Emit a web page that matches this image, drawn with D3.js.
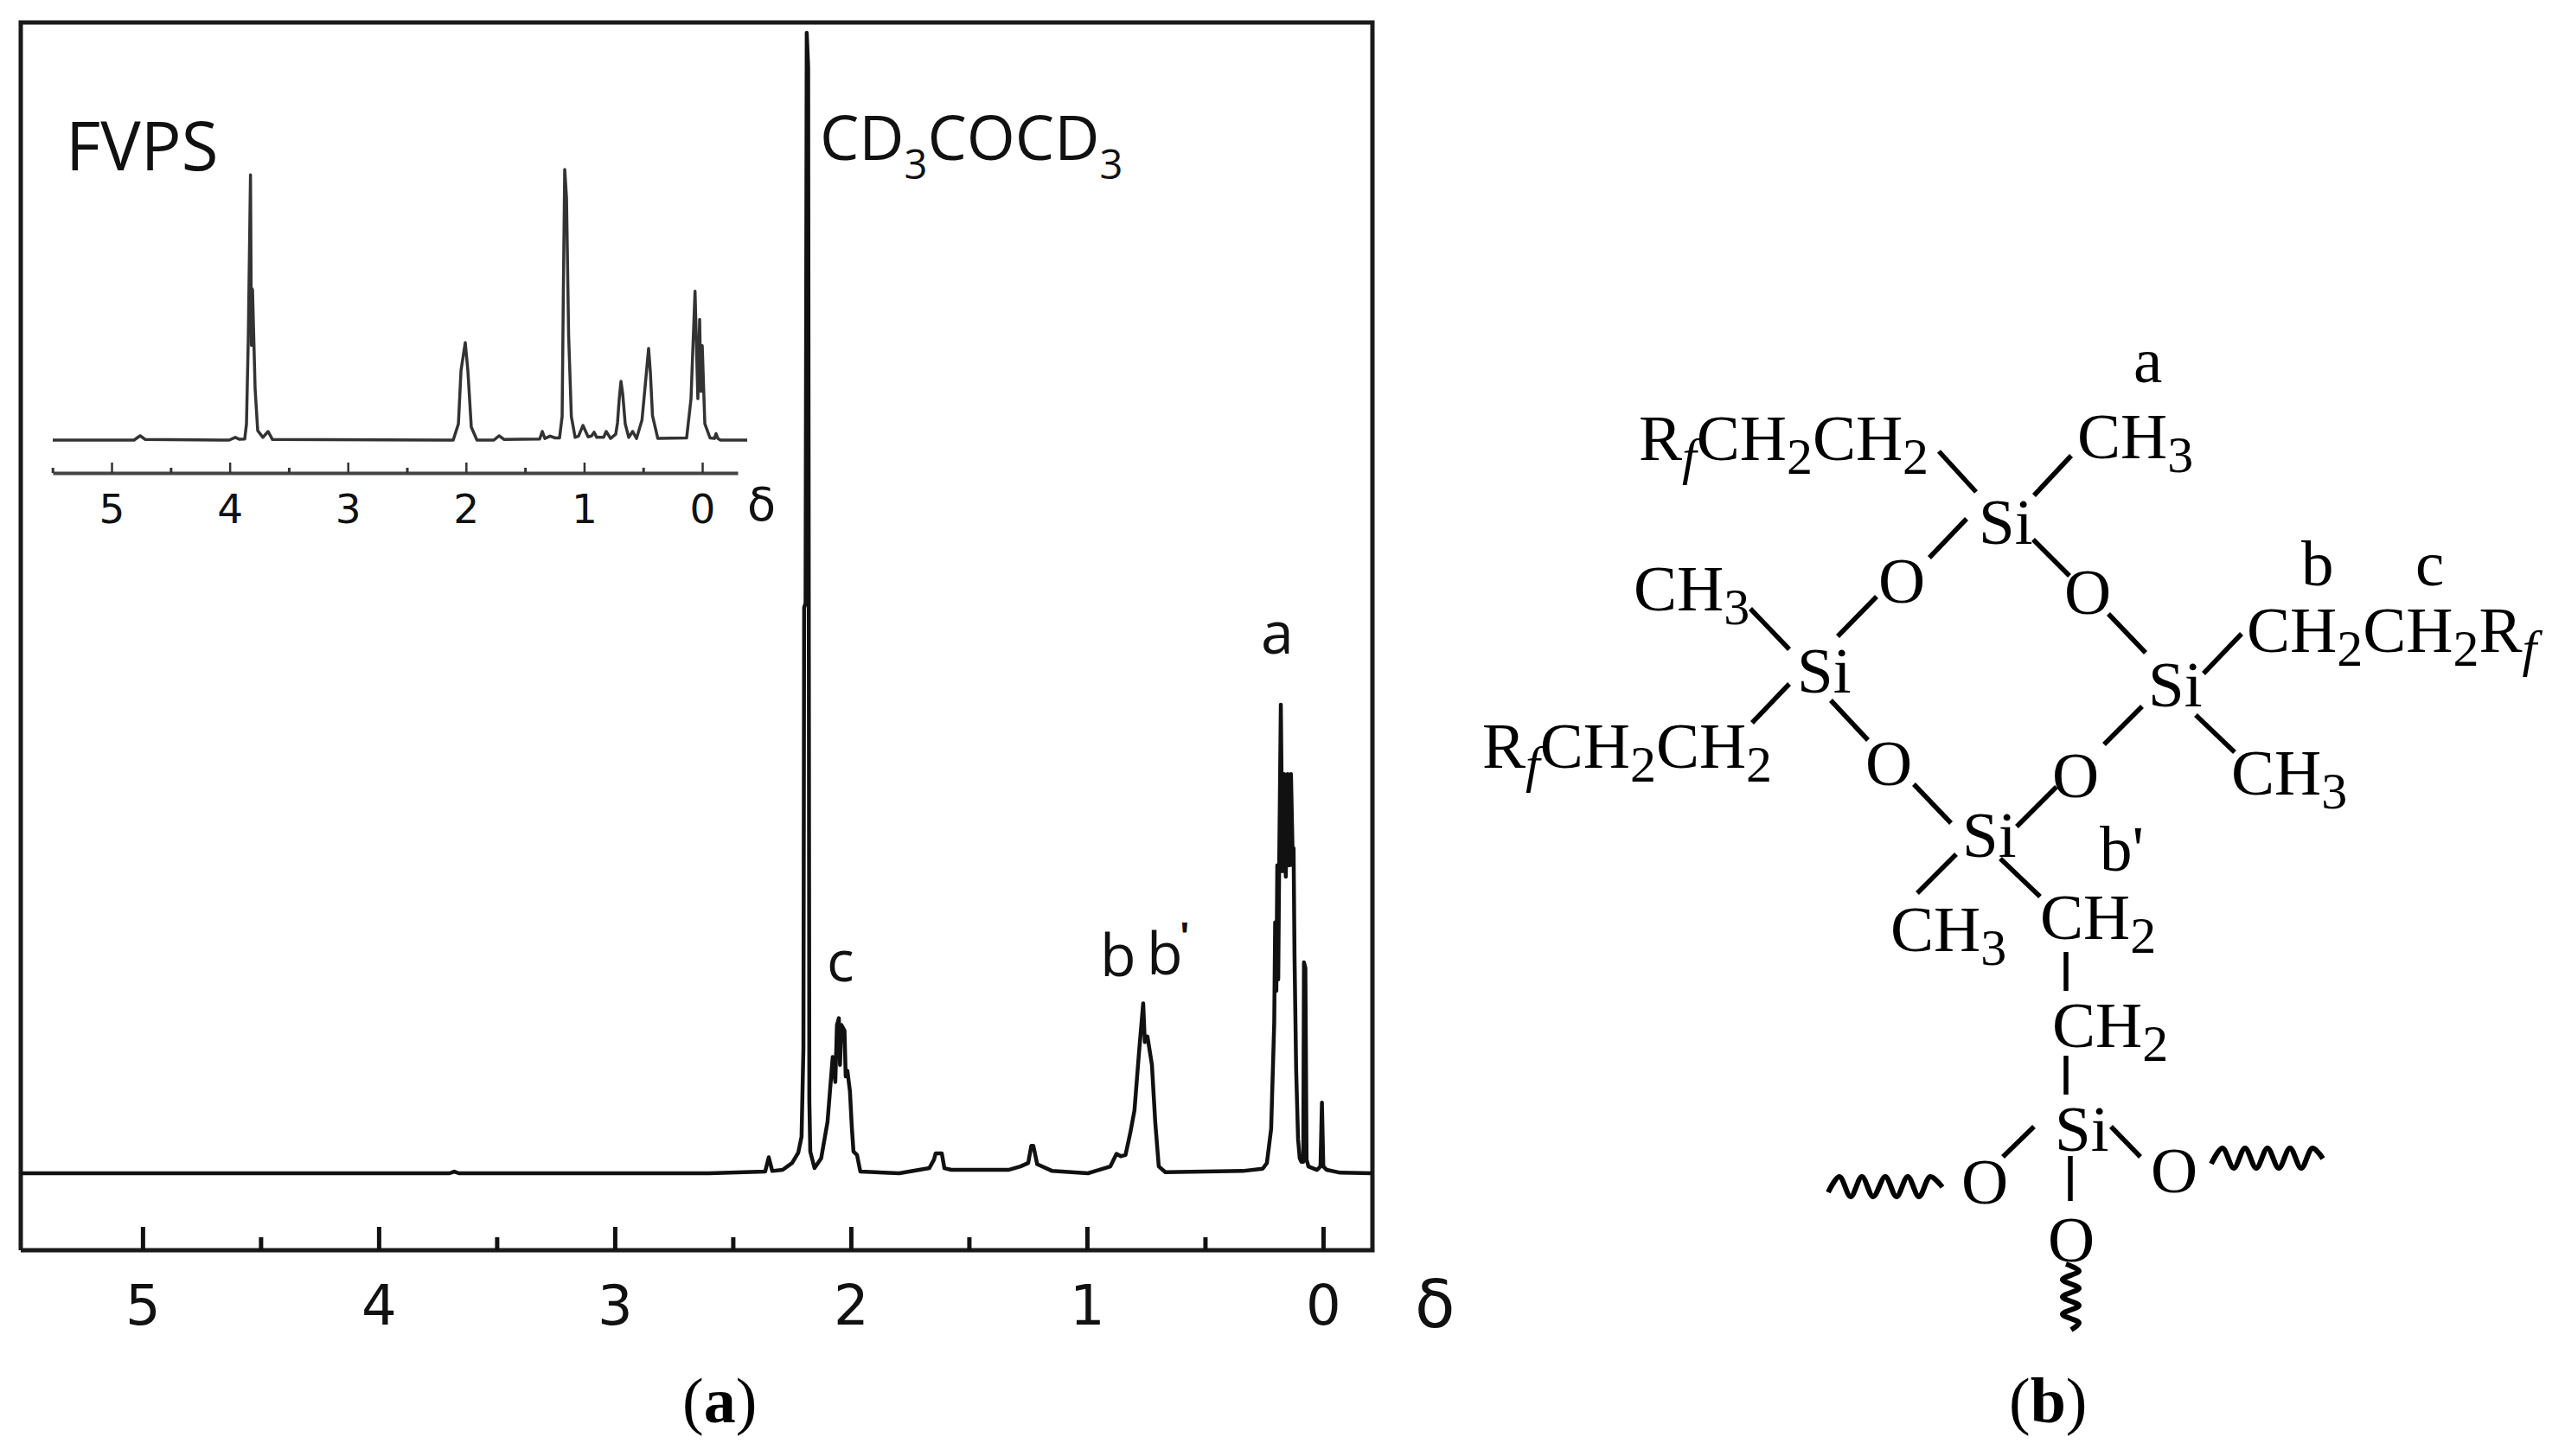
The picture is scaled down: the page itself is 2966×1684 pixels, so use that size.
<!DOCTYPE html>
<html lang="en">
<head>
<meta charset="UTF-8">
<title>FVPS NMR</title>
<style>
    html, body { margin: 0; padding: 0; background: #fff; }
</style>
</head>
<body>
<div class="canvas"></div>
<script src="https://cdnjs.cloudflare.com/ajax/libs/d3/7.8.5/d3.min.js"></script>
<script>
// main spectrum, shift in ppm and intensity in % of the solvent peak
const mainShift = [5.516,3.70,3.68,3.66,2.60,2.454,2.363,2.348,2.333,2.289,2.249,2.223,2.209,2.201,2.198,2.192,2.187,2.181,2.176,2.172,2.154,2.126,2.099,2.077,2.066,2.059,2.051,2.046,2.040,2.027,2.022,2.015,2.004,1.996,1.989,1.974,1.960,1.795,1.668,1.648,1.641,1.615,1.604,1.575,1.333,1.282,1.249,1.236,1.227,1.211,1.147,0.996,0.901,0.875,0.857,0.837,0.817,0.799,0.780,0.762,0.755,0.744,0.725,0.711,0.696,0.668,0.341,0.256,0.238,0.220,0.207,0.203,0.198,0.194,0.190,0.186,0.179,0.172,0.165,0.158,0.150,0.143,0.136,0.128,0.125,0.121,0.114,0.106,0.099,0.092,0.084,0.081,0.075,0.070,0.062,0.026,0.011,0.005,-0.001,-0.015,-0.073,-0.209];
const mainIntensity = [0,0,0.15,0,0,0.1,0.15,1.4,0.2,0.3,0.9,1.8,3.2,11,49.6,50,100,97,6.4,1.9,0.45,1.3,4.5,10.2,8,13,13.6,9.5,13,12.5,8.5,9,7.2,4,1.9,1.6,0.15,0,0.45,1.2,1.75,1.75,0.45,0.3,0.3,0.6,0.9,2.4,2.4,0.8,0.2,0,0.6,1.7,1.5,1.6,3.5,5.5,10.5,14.9,11.5,12,9.5,4.5,0.6,0.1,0.2,0.4,0.9,3.9,13.2,22,16,27,17,27,41.1,26.5,35,26,35,27,35,27,28.5,19,9,3,1.3,1,1,18.5,18,1.2,0.6,0.3,0.6,6.2,0.6,0.3,0.05,0];

// inset spectrum
const insetShift = [5.498,4.81,4.758,4.714,4.004,3.953,3.917,3.873,3.858,3.843,3.824,3.816,3.812,3.807,3.785,3.763,3.719,3.675,3.638,2.108,2.064,2.042,2.006,1.984,1.955,1.907,1.764,1.720,1.676,1.376,1.354,1.332,1.288,1.245,1.208,1.186,1.175,1.164,1.149,1.131,1.108,1.076,1.047,1.010,0.966,0.937,0.915,0.893,0.835,0.813,0.776,0.732,0.717,0.703,0.688,0.673,0.652,0.622,0.589,0.556,0.510,0.483,0.454,0.439,0.421,0.376,0.132,0.095,0.061,0.037,0.022,0.011,0,-0.022,-0.066,-0.103,-0.117,-0.132,-0.154,-0.381];
const insetIntensity = [0,0,1.6,0.2,0,1,0.3,0.4,6,37,98,35,56,55.6,19,3.5,1,3.2,0.2,0,6,25.7,36,25.7,4.8,0,0,1.6,0.2,0.4,3.2,0.6,1.5,0.8,0.8,8.7,58,100,89.6,38.8,8.7,1,1.5,5.4,1.2,1.5,2.9,1,1,3.2,0.6,2.2,6.5,15,21.7,17,6,1,3.2,0.6,7.4,20,33.9,25,9,0.6,0.8,15.3,55,15.3,44.6,18,34.9,6,0.8,0.6,2.4,0.6,0,0];

const majorTicks = [5, 4, 3, 2, 1, 0];
const minorTicks = [4.5, 3.5, 2.5, 1.5, 0.5];
const insetMinorTicks = [5.5, 4.5, 3.5, 2.5, 1.5, 0.5];

// structure drawing on the right: text, baseline start
const structureLabels = [
    ["a", 2467, 442], ["RfCH2CH2", 1895, 532], ["CH3", 2402, 530], ["Si", 2288, 629],
    ["O", 2172, 697], ["O", 2387, 710], ["CH3", 1889, 706], ["Si", 2078, 801],
    ["Si", 2484, 817], ["b", 2661, 677], ["c", 2793, 677], ["CH2CH2Rf", 2598, 754],
    ["RfCH2CH2", 1714, 888], ["O", 2157, 908], ["O", 2373, 922], ["CH3", 2580, 919],
    ["Si", 2269, 991], ["b'", 2428, 1007], ["CH3", 2186, 1100], ["CH2", 2359, 1086],
    ["CH2", 2373, 1211], ["Si", 2376, 1331], ["O", 2268, 1392], ["O", 2487, 1379], ["O", 2368, 1459]
];
const bonds = [
    [2242,522,2285,569], [2395,527,2352,573], [2274,600,2231,645], [2351,624,2393,666],
    [2170,690,2125,736], [2024,704,2069,751], [2438,710,2481,755], [2592,733,2548,779],
    [2069,791,2026,836], [2117,810,2160,856], [2477,817,2433,861], [2539,827,2584,870],
    [2213,907,2256,952], [2378,910,2332,956], [2262,988,2217,1033], [2313,993,2359,1037],
    [2389,1101,2389,1146], [2389,1221,2389,1266], [2352,1303,2316,1338], [2441,1303,2475,1338],
    [2394,1337,2394,1389]
];
const squiggles = [
    [[2114,1379],[2127,1361],[2140,1384],[2153,1361],[2166,1384],[2180,1361],[2193,1384],[2206,1361],[2219,1384],[2232,1361],[2246,1373]],
    [[2557,1346],[2570,1328],[2583,1351],[2596,1328],[2609,1351],[2622,1328],[2635,1351],[2648,1328],[2661,1351],[2674,1328],[2686,1340]],
    [[2389,1462],[2404,1470],[2385,1480],[2404,1490],[2385,1500],[2404,1510],[2385,1520],[2404,1530],[2395,1538]]
];

const sansFont = "'Open Sans', sans-serif";
const tickFont = "'DejaVu Sans', sans-serif";
const serifFont = "'Liberation Serif', serif";
const ink = "#111";

const svg = d3.select(".canvas").append("svg")
    .attr("width", 2966)
    .attr("height", 1684)
    .style("display", "block");

// frame of panel a
svg.append("path")
    .attr("d", "M24,1446V26H1587V1446H24")
    .attr("fill", "none")
    .attr("stroke", "#1a1a1a")
    .attr("stroke-width", 5);

// ---- main spectrum
const x = d3.scaleLinear().domain([5.516, -0.209]).range([24, 1587]);
const y = d3.scaleLinear().domain([0, 100]).range([1357, 38]);

const mainPoints = mainShift.map((s, i) => [s, mainIntensity[i]]);
svg.append("path")
    .attr("d", d3.line().x(d => x(d[0])).y(d => y(d[1]))(mainPoints))
    .attr("fill", "none")
    .attr("stroke", ink)
    .attr("stroke-width", 4.5)
    .attr("stroke-linejoin", "round");

const mainAxis = svg.append("g")
    .attr("transform", "translate(0,1446)")
    .call(d3.axisBottom(x).tickValues(majorTicks).tickFormat(d3.format("d")).tickSize(-27).tickSizeOuter(0));
mainAxis.select(".domain").remove();
mainAxis.selectAll("line").attr("stroke", ink).attr("stroke-width", 5);
mainAxis.selectAll("text")
    .attr("y", 86).attr("dy", 0)
    .attr("font-family", tickFont).attr("font-size", 64).attr("fill", ink);

const mainMinor = svg.append("g")
    .attr("transform", "translate(0,1446)")
    .call(d3.axisBottom(x).tickValues(minorTicks).tickFormat("").tickSize(-15).tickSizeOuter(0));
mainMinor.select(".domain").remove();
mainMinor.selectAll("line").attr("stroke", ink).attr("stroke-width", 5);

// ---- inset spectrum
const insetX = d3.scaleLinear().domain([5.498, -0.30]).range([61, 853]);
const insetY = d3.scaleLinear().domain([0, 100]).range([509, 196]);

const insetPoints = insetShift.map((s, i) => [s, insetIntensity[i]]);
svg.append("path")
    .attr("d", d3.line().x(d => insetX(d[0])).y(d => insetY(d[1]))(insetPoints))
    .attr("fill", "none")
    .attr("stroke", "#333")
    .attr("stroke-width", 3.5)
    .attr("stroke-linejoin", "round");

const insetAxis = svg.append("g")
    .attr("transform", "translate(0,547)")
    .call(d3.axisBottom(insetX).tickValues(majorTicks).tickFormat(d3.format("d")).tickSize(-12).tickSizeOuter(0));
insetAxis.select(".domain").attr("stroke", "#444").attr("stroke-width", 4);
insetAxis.selectAll("line").attr("stroke", "#333").attr("stroke-width", 2.5);
insetAxis.selectAll("text")
    .attr("y", 58).attr("dy", 0)
    .attr("font-family", tickFont).attr("font-size", 47).attr("fill", ink);

const insetMinor = svg.append("g")
    .attr("transform", "translate(0,547)")
    .call(d3.axisBottom(insetX).tickValues(insetMinorTicks).tickFormat("").tickSize(-6).tickSizeOuter(0));
insetMinor.select(".domain").remove();
insetMinor.selectAll("line").attr("stroke", "#333").attr("stroke-width", 3);

// text with digits set as subscripts, f as italic subscript
function formula(sel, text, subSize, drop) {
    let low = false;
    text.split("").forEach(ch => {
        const isSub = /[0-9]/.test(ch) || ch === "f";
        const t = sel.append("tspan").text(ch);
        if (isSub) t.attr("font-size", subSize);
        if (ch === "f") t.attr("font-style", "italic");
        if (isSub && !low) t.attr("dy", drop);
        if (!isSub && low) t.attr("dy", -drop);
        low = isSub;
    });
    return sel;
}

function plainLabel(text, px, py, size, family) {
    return svg.append("text")
        .attr("x", px).attr("y", py)
        .attr("font-family", family).attr("font-size", size).attr("fill", ink)
        .text(text);
}

plainLabel("FVPS", 76, 197, 78, sansFont);
plainLabel("c", 956, 1135, 66, sansFont);
plainLabel("a", 1458, 756, 68, sansFont);
plainLabel("b", 1272, 1129, 68, sansFont);
plainLabel("b", 1326, 1127, 68, sansFont);
plainLabel("'", 1364, 1099, 44, sansFont).attr("font-weight", 700);
plainLabel("δ", 1636, 1535, 76, tickFont);
plainLabel("δ", 864, 602, 54, tickFont);

formula(svg.append("text")
    .attr("x", 948).attr("y", 185)
    .attr("font-family", sansFont).attr("font-size", 72).attr("fill", ink), "CD3COCD3", 47, 22);

// ---- panel b
const structure = svg.append("g");
structure.selectAll("line")
    .data(bonds)
    .join("line")
        .attr("x1", d => d[0])
        .attr("y1", d => d[1])
        .attr("x2", d => d[2])
        .attr("y2", d => d[3])
        .attr("stroke", "#000")
        .attr("stroke-width", 5.5);

structure.selectAll("path")
    .data(squiggles)
    .join("path")
        .attr("d", d3.line().curve(d3.curveCatmullRom))
        .attr("fill", "none")
        .attr("stroke", "#000")
        .attr("stroke-width", 6);

structure.selectAll("text")
    .data(structureLabels)
    .join("text")
        .attr("x", d => d[1])
        .attr("y", d => d[2])
        .attr("font-family", serifFont)
        .attr("font-size", 75)
        .attr("fill", "#000")
        .each(function (d) { formula(d3.select(this), d[0], 60, 16); });

// captions
[["a", 789], ["b", 2323]].forEach(([letter, px]) => {
    const cap = svg.append("text")
        .attr("x", px).attr("y", 1645)
        .attr("font-family", serifFont).attr("font-size", 74).attr("fill", "#000");
    cap.append("tspan").text("(");
    cap.append("tspan").attr("font-weight", "bold").text(letter);
    cap.append("tspan").text(")");
});
</script>
</body>
</html>
